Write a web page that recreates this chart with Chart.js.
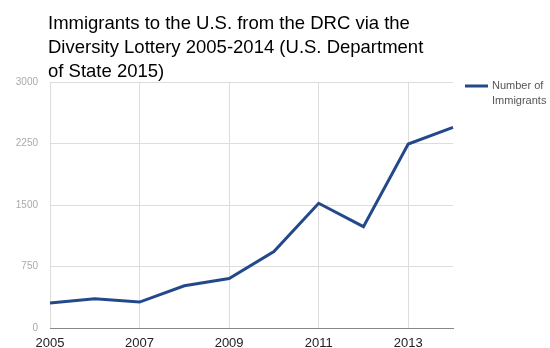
<!DOCTYPE html>
<html>
<head>
<meta charset="utf-8">
<script src="https://cdn.jsdelivr.net/npm/chart.js@4/dist/chart.umd.min.js"></script>
<style>
  html, body { margin: 0; padding: 0; background: #fff; }
  #wrap { width: 550px; height: 348px; position: relative; }
</style>
</head>
<body>
<div id="wrap"><canvas id="chart"></canvas></div>
<script>
// data
const years = ['2005', '2006', '2007', '2008', '2009', '2010', '2011', '2012', '2013', '2014'];
const immigrants = [304, 357, 316, 515, 604, 932, 1521, 1236, 2243, 2446];
const yTicks = [0, 750, 1500, 2250, 3000];
const titleLines = [
  'Immigrants to the U.S. from the DRC via the',
  'Diversity Lottery 2005-2014 (U.S. Department',
  'of State 2015)'
];
const seriesName = 'Number of Immigrants';
const legendLines = ['Number of', 'Immigrants'];

const lineColor = '#24498a';

// title and two-line legend drawn by hand, chart.js legend can't wrap
const decorations = {
  id: 'decorations',
  afterDraw(chart) {
    const ctx = chart.ctx;
    const area = chart.chartArea;
    ctx.save();
    ctx.fillStyle = '#000';
    ctx.font = '18.5px "Liberation Sans", Arial, sans-serif';
    ctx.textBaseline = 'alphabetic';
    ctx.textAlign = 'left';
    titleLines.forEach((t, i) => ctx.fillText(t, area.left - 2, 29 + i * 24));

    const lx = area.right + 12;
    const ly = area.top + 4;
    ctx.strokeStyle = lineColor;
    ctx.lineWidth = 3;
    ctx.beginPath();
    ctx.moveTo(lx, ly);
    ctx.lineTo(lx + 23, ly);
    ctx.stroke();
    ctx.fillStyle = '#555';
    ctx.font = '11px "Liberation Sans", Arial, sans-serif';
    ctx.textBaseline = 'middle';
    legendLines.forEach((t, i) => ctx.fillText(t, lx + 27, ly + i * 15));
    ctx.restore();
  }
};

new Chart(document.getElementById('chart'), {
  type: 'line',
  data: {
    labels: years,
    datasets: [{
      label: seriesName,
      data: immigrants,
      borderColor: lineColor,
      backgroundColor: lineColor,
      borderWidth: 3,
      pointRadius: 0,
      tension: 0,
      fill: false
    }]
  },
  options: {
    responsive: true,
    maintainAspectRatio: false,
    animation: false,
    layout: { padding: { top: 82, right: 97, left: 0, bottom: 0 } },
    plugins: {
      legend: { display: false },
      title: { display: false },
      tooltip: { enabled: false }
    },
    scales: {
      x: {
        offset: false,
        grid: {
          color: (c) => (c.index % 2 === 0 ? '#dddddd' : 'rgba(0,0,0,0)'),
          drawTicks: false
        },
        border: { color: '#888', width: 1 },
        ticks: {
          autoSkip: false,
          maxRotation: 0,
          padding: 8,
          color: '#222',
          font: { family: '"Liberation Sans", Arial, sans-serif', size: 13 },
          callback: (v, i) => (i % 2 === 0 ? years[i] : '')
        },
        afterFit: (s) => { s.height = 20; }
      },
      y: {
        min: 0,
        max: 3000,
        afterBuildTicks: (s) => { s.ticks = yTicks.map(v => ({ value: v })); },
        grid: { color: '#dddddd', drawTicks: false },
        border: { display: false },
        ticks: {
          padding: 12,
          color: '#aaa',
          font: { family: '"Liberation Sans", Arial, sans-serif', size: 10 },
          callback: (v) => String(v)
        },
        afterFit: (s) => { s.width = 50; }
      }
    }
  },
  plugins: [decorations]
});
</script>
</body>
</html>
